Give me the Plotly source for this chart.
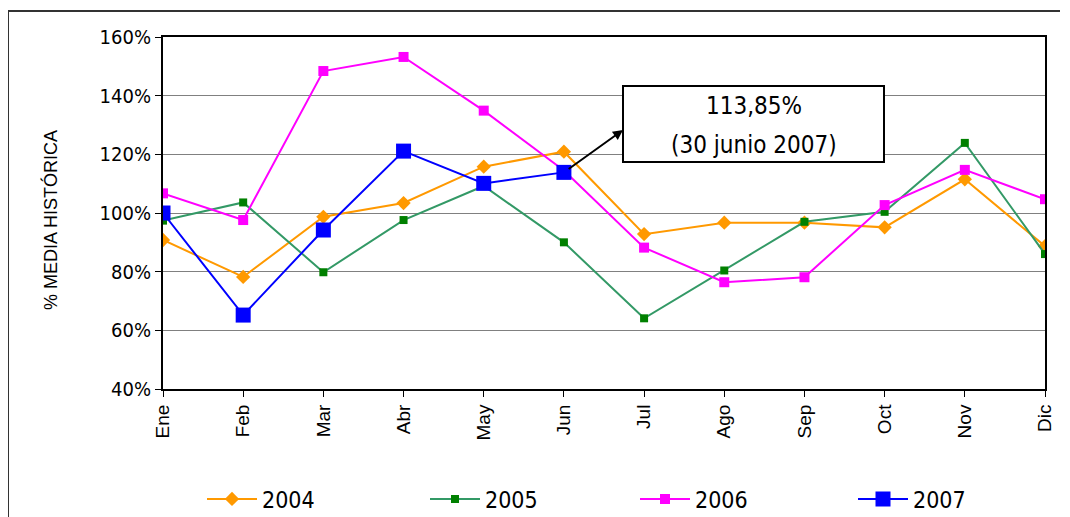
import plotly.graph_objects as go

months = ["Ene", "Feb", "Mar", "Abr", "May", "Jun", "Jul", "Ago", "Sep", "Oct", "Nov", "Dic"]
y2004 = [90.8, 78.2, 98.7, 103.4, 115.8, 120.9, 92.8, 96.7, 96.7, 95.1, 111.5, 88.7]
y2005 = [97.4, 103.6, 79.8, 97.6, 109.2, 90.0, 64.1, 80.4, 97.0, 100.4, 123.9, 86.0]
y2006 = [106.7, 97.6, 148.4, 153.2, 134.9, 114.5, 88.2, 76.4, 78.1, 102.7, 114.7, 104.7]
y2007 = [100.0, 65.2, 94.2, 121.1, 110.1, 113.85]
callout_line1 = "113,85%"
callout_line2 = "(30 junio 2007)"

# Page has an 8px body margin; geometry below is in window pixels
OFF = 8
W, H = 1070, 517
L, T = 163, 37          # plot area left/top in window pixels
PW, PH = 882, 352       # plot area size
ML, MT = L - OFF, T - OFF
MR = W - ML - PW
MB = H - MT - PH
YMIN, YMAX = 40, 160
NCAT = 11

def px(x):
    return (x - L) / PW

def py(y):
    return (T + PH - y) / PH

COND = "DejaVu Sans Condensed, DejaVu Sans"
ARIAL = "Liberation Sans, Arial"

fig = go.Figure()
fig.add_trace(go.Scatter(x=months, y=y2004, name="2004", mode="lines+markers", legend="legend",
                         line=dict(color="#FF9900", width=2),
                         marker=dict(symbol="diamond", size=11, color="#FF9900")))
fig.add_trace(go.Scatter(x=months, y=y2005, name="2005", mode="lines+markers", legend="legend2",
                         line=dict(color="#339966", width=2),
                         marker=dict(symbol="square", size=8, color="#008000")))
fig.add_trace(go.Scatter(x=months, y=y2006, name="2006", mode="lines+markers", legend="legend3",
                         line=dict(color="#FF00FF", width=2),
                         marker=dict(symbol="square", size=10, color="#FF00FF")))
fig.add_trace(go.Scatter(x=months[:len(y2007)], y=y2007, name="2007", mode="lines+markers",
                         legend="legend4",
                         line=dict(color="#0000FF", width=2),
                         marker=dict(symbol="square", size=15, color="#0000FF")))

# callout box
bx0, bx1, by0, by1 = 623, 884, 86, 162
fig.add_shape(type="rect", xref="paper", yref="paper",
              x0=px(bx0), x1=px(bx1), y0=py(by1), y1=py(by0),
              line=dict(color="black", width=2), fillcolor="white", layer="above")
fig.add_annotation(xref="paper", yref="paper", x=px((bx0 + bx1) / 2), y=py(106),
                   xanchor="center", yanchor="middle",
                   text=callout_line1, showarrow=False,
                   font=dict(family=COND, size=24, color="black"))
fig.add_annotation(xref="paper", yref="paper", x=px((bx0 + bx1) / 2), y=py(145),
                   xanchor="center", yanchor="middle",
                   text=callout_line2, showarrow=False,
                   font=dict(family=COND, size=24, color="black"))
# arrow from the June 2007 point to the box edge
tip_x = px(bx0) * NCAT
tip_y = YMIN + py(130) * (YMAX - YMIN)
fig.add_annotation(xref="x", yref="y", x=tip_x, y=tip_y,
                   axref="x", ayref="y", ax=len(y2007) - 1, ay=y2007[-1],
                   text="", showarrow=True, arrowhead=2, arrowsize=1, arrowwidth=2,
                   arrowcolor="black", standoff=0, startstandoff=4)

# y-axis title
fig.add_annotation(xref="paper", yref="paper", x=px(50), y=py(220), text="% MEDIA HISTÓRICA",
                   textangle=-90, showarrow=False, xanchor="center", yanchor="middle",
                   font=dict(family=ARIAL, size=18, color="black"))

# outer frame (top and left edges visible)
fig.add_shape(type="line", xref="paper", yref="paper", x0=px(8), x1=px(1060), y0=py(11), y1=py(11),
              line=dict(color="#333333", width=2))
fig.add_shape(type="line", xref="paper", yref="paper", x0=px(8), x1=px(8), y0=py(11), y1=py(540),
              line=dict(color="#333333", width=2))

legend_text_x = [261, 484, 694, 912]
legend_y = 499
def leg(xtext):
    return dict(orientation="h", x=px(xtext - 59), xanchor="left", y=py(legend_y), yanchor="middle",
                font=dict(family=COND, size=23, color="black"), itemwidth=50,
                bgcolor="rgba(0,0,0,0)")

fig.update_layout(
    width=W, height=H,
    margin=dict(l=ML, r=MR, t=MT, b=MB, autoexpand=False),
    plot_bgcolor="white", paper_bgcolor="white",
    showlegend=True,
    legend=leg(legend_text_x[0]),
    legend2=leg(legend_text_x[1]),
    legend3=leg(legend_text_x[2]),
    legend4=leg(legend_text_x[3]),
    xaxis=dict(type="category", categoryorder="array", categoryarray=months,
               range=[0, NCAT], showline=True, linecolor="black", linewidth=2, mirror=True,
               ticks="outside", ticklen=6, tickcolor="black", tickangle=-90,
               showgrid=False, zeroline=False,
               tickfont=dict(family=ARIAL, size=19, color="black")),
    yaxis=dict(range=[YMIN, YMAX], dtick=20, tick0=40, ticksuffix="%",
               showline=True, linecolor="black", linewidth=2, mirror=True,
               ticks="outside", ticklen=6, tickcolor="black",
               showgrid=True, gridcolor="#808080", gridwidth=1, zeroline=False,
               tickfont=dict(family=COND, size=20, color="black")),
)

fig.write_html("out.html")
